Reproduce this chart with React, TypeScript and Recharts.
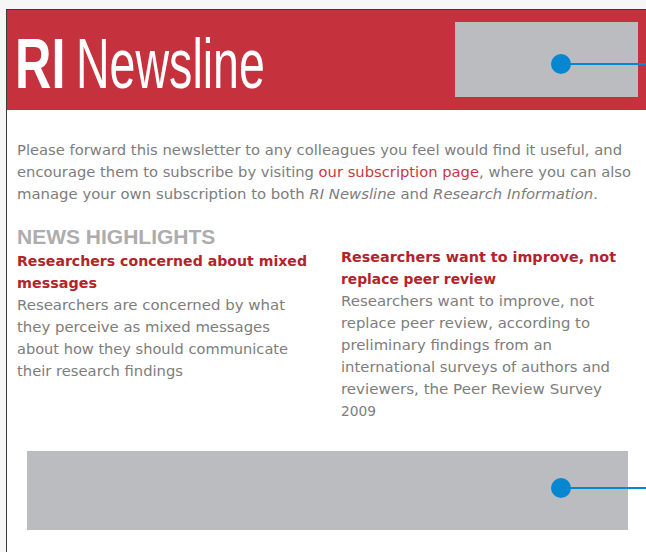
import { ComposedChart, XAxis, YAxis, Line, ReferenceArea } from 'recharts';

const W = 646;
const H = 552;

// page blocks (px in page space, drawn through the chart's scales)
const headerBand = [{ x1: 7, x2: 646, y1: 10, y2: 110 }];
const greyBoxes = [
  { x1: 455, x2: 638, y1: 22, y2: 97 },
  { x1: 27, x2: 628, y1: 451, y2: 530 },
];
const calloutTop = [{ x: 561, y: 64 }, { x: 646, y: 64 }];
const calloutBottom = [{ x: 561, y: 488 }, { x: 646, y: 488 }];

// texts, each line with the width it spans in the original
const introLines = [
  { w: 605, parts: [{ t: 'Please forward this newsletter to any colleagues you feel would find it useful, and' }] },
  {
    w: 614,
    parts: [
      { t: 'encourage them to subscribe by visiting ' },
      { t: 'our subscription page', link: true },
      { t: ', where you can also' },
    ],
  },
  {
    w: 581,
    parts: [
      { t: 'manage your own subscription to both ' },
      { t: 'RI Newsline', it: true },
      { t: ' and ' },
      { t: 'Research Information', it: true },
      { t: '.' },
    ],
  },
];
const sectionTitle = 'NEWS HIGHLIGHTS';
const leftHeadline = ['Researchers concerned about mixed', 'messages'];
const leftHeadlineW = [290, 80];
const leftBody = [
  'Researchers are concerned by what',
  'they perceive as mixed messages',
  'about how they should communicate',
  'their research findings',
];
const leftBodyW = [268, 253, 271, 166];
const rightHeadline = ['Researchers want to improve, not', 'replace peer review'];
const rightHeadlineW = [275, 155];
const rightBody = [
  'Researchers want to improve, not',
  'replace peer review, according to',
  'preliminary findings from an',
  'international surveys of authors and',
  'reviewers, the Peer Review Survey',
  '2009',
];
const rightBodyW = [253, 249, 211, 269, 261, 35];

const RED = '#c5313d';
const GREY_BOX = '#bbbcbf';
const BLUE = '#0787d0';
const TEXT = '#7d7d7d';
const HEAD_RED = '#b3232b';
const LINK = '#c9373e';
const BODY_FONT = '"DejaVu Sans", Verdana, sans-serif';
const LOGO_FONT = '"Liberation Sans", Arial, sans-serif';

const firstDot = (p: any) =>
  p.index === 0 ? (
    <circle key={`d-${p.index}`} cx={p.cx} cy={p.cy} r={10} fill={BLUE} />
  ) : (
    <g key={`d-${p.index}`} />
  );

export default function App() {
  return (
    <div style={{ position: 'absolute', left: 0, top: 0, width: W, height: H, background: '#f6f6f6', overflow: 'hidden' }}>
      <div
        style={{
          position: 'absolute',
          left: 6,
          top: 9,
          width: W - 6,
          height: H - 9,
          background: '#fff',
          borderLeft: '1px solid #3a3a3a',
          borderTop: '1px solid #3a3a3a',
          boxSizing: 'border-box',
        }}
      />
      <div style={{ position: 'absolute', left: 0, top: 0 }}>
        <ComposedChart width={W} height={H} margin={{ top: 0, right: 0, bottom: 0, left: 0 }}>
          <XAxis type="number" dataKey="x" domain={[0, W]} hide allowDataOverflow />
          <YAxis type="number" domain={[0, H]} reversed hide allowDataOverflow />
          {headerBand.map((b, i) => (
            <ReferenceArea key={`h-${i}`} x1={b.x1} x2={b.x2} y1={b.y1} y2={b.y2} fill={RED} fillOpacity={1} stroke="none" />
          ))}
          {greyBoxes.map((b, i) => (
            <ReferenceArea key={`g-${i}`} x1={b.x1} x2={b.x2} y1={b.y1} y2={b.y2} fill={GREY_BOX} fillOpacity={1} stroke="none" />
          ))}
          <Line data={calloutTop} dataKey="y" stroke={BLUE} strokeWidth={2} dot={firstDot} activeDot={false} isAnimationActive={false} />
          <Line data={calloutBottom} dataKey="y" stroke={BLUE} strokeWidth={2} dot={firstDot} activeDot={false} isAnimationActive={false} />
        </ComposedChart>
      </div>
      <svg width={W} height={H} style={{ position: 'absolute', left: 0, top: 0 }}>
        <g transform="translate(15,88) scale(0.72,1)">
          <text x={0} y={0} fill="#fff" fontFamily={LOGO_FONT} fontWeight="bold" fontSize={70}>
            RI
          </text>
        </g>
        <g transform="translate(76,88) scale(0.665,1)">
          <text x={0} y={0} fill="#fff" fontFamily={LOGO_FONT} fontSize={70}>
            Newsline
          </text>
        </g>

        {introLines.map((line, i) => (
          <text
            key={`in-${i}`}
            x={17}
            y={155 + i * 22}
            fontFamily={BODY_FONT}
            fontSize={13.5}
            fill={TEXT}
            textLength={line.w}
            lengthAdjust="spacingAndGlyphs"
          >
            {line.parts.map((s: any, j) => (
              <tspan key={j} fill={s.link ? LINK : TEXT} fontStyle={s.it ? 'italic' : 'normal'}>
                {s.t}
              </tspan>
            ))}
          </text>
        ))}

        <text x={17} y={244} fontFamily={LOGO_FONT} fontWeight="bold" fontSize={21} fill="#adadad">
          {sectionTitle}
        </text>

        {leftHeadline.map((t, i) => (
          <text key={`lh-${i}`} x={17} y={266 + i * 22} fontFamily={BODY_FONT} fontWeight="bold" fontSize={13.5} fill={HEAD_RED} textLength={leftHeadlineW[i]} lengthAdjust="spacingAndGlyphs">
            {t}
          </text>
        ))}
        {leftBody.map((t, i) => (
          <text key={`lb-${i}`} x={17} y={310 + i * 22} fontFamily={BODY_FONT} fontSize={13.5} fill={TEXT} textLength={leftBodyW[i]} lengthAdjust="spacingAndGlyphs">
            {t}
          </text>
        ))}
        {rightHeadline.map((t, i) => (
          <text key={`rh-${i}`} x={341} y={262 + i * 22} fontFamily={BODY_FONT} fontWeight="bold" fontSize={13.5} fill={HEAD_RED} textLength={rightHeadlineW[i]} lengthAdjust="spacingAndGlyphs">
            {t}
          </text>
        ))}
        {rightBody.map((t, i) => (
          <text key={`rb-${i}`} x={341} y={306 + i * 22} fontFamily={BODY_FONT} fontSize={13.5} fill={TEXT} textLength={rightBodyW[i]} lengthAdjust="spacingAndGlyphs">
            {t}
          </text>
        ))}
      </svg>
    </div>
  );
}
